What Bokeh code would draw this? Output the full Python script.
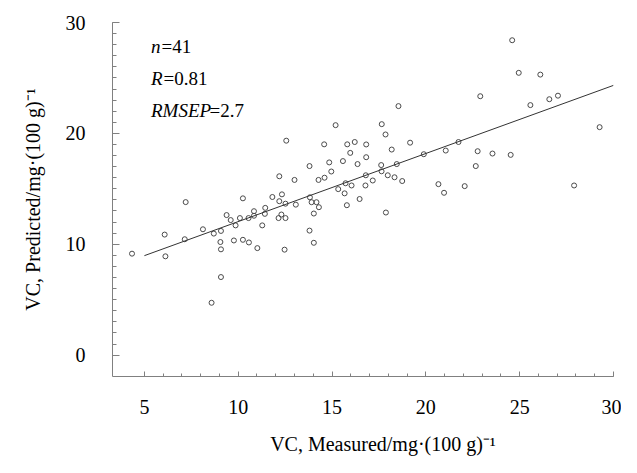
from bokeh.plotting import figure
from bokeh.models import Range1d, FixedTicker, Label
from bokeh.embed import file_html
from bokeh.resources import INLINE

# Measured vs predicted VC values
measured = [4.34, 6.08, 6.12, 7.20, 7.15, 8.12, 8.70, 9.08, 9.05, 9.08, 9.08, 8.58,
            9.38, 9.60, 9.86, 9.77, 10.25, 10.09, 10.25, 10.57, 10.55, 10.84, 10.84,
            11.02, 11.28, 11.44, 11.42, 11.82, 12.19, 12.33, 12.15, 12.30, 12.52, 12.47,
            12.52, 13.07, 13.00, 13.82, 13.91, 14.17, 14.30, 14.03, 13.80, 14.03, 14.28,
            14.60, 14.96, 15.33, 15.67, 15.79, 15.72, 16.04, 16.47, 16.78, 17.17, 17.87,
            18.74, 20.67, 20.97, 22.07, 27.90, 24.60, 24.95, 26.10, 22.90, 25.57,
            26.58, 27.04, 29.26, 18.54, 17.65, 17.85, 16.82, 16.82, 19.16, 18.18, 17.62,
            18.45, 19.89, 21.06, 21.74, 22.76, 23.55, 24.52, 22.66, 16.80, 17.64, 17.97,
            18.33, 15.19, 12.56, 14.58, 15.81, 16.21, 15.97, 14.85, 15.58, 16.36, 13.80,
            12.19]
predicted = [9.15, 10.87, 8.91, 13.80, 10.45, 11.35, 10.96, 11.20, 10.20, 9.54, 7.04, 4.72,
             12.63, 12.18, 11.70, 10.34, 14.14, 12.36, 10.40, 10.16, 12.36, 12.98, 12.57,
             9.65, 11.70, 13.28, 12.74, 14.26, 13.88, 14.50, 12.36, 12.68, 12.36, 9.51,
             13.66, 13.57, 15.80, 14.23, 13.79, 13.79, 13.34, 12.77, 11.23, 10.13, 15.80,
             16.00, 16.56, 14.97, 14.59, 13.52, 15.50, 15.30, 14.08, 15.30, 15.75, 12.86,
             15.70, 15.42, 14.64, 15.24, 15.30, 28.40, 25.46, 25.30, 23.35, 22.55,
             23.08, 23.40, 20.56, 22.46, 20.83, 19.90, 19.00, 17.85, 19.16, 18.54, 17.14,
             17.23, 18.12, 18.45, 19.22, 18.39, 18.18, 18.06, 17.05, 16.22, 16.58, 16.22,
             16.04, 20.74, 19.34, 19.01, 19.01, 19.22, 18.24, 17.38, 17.50, 17.23, 17.05,
             16.13]

# Regression line end points
fit_x = [5.0, 30.0]
fit_y = [8.97, 24.33]

x_ticks = [5, 10, 15, 20, 25, 30]
y_ticks = [0, 10, 20, 30]
x_minor = list(range(5, 31))
y_minor = list(range(0, 31))

stat_names = ["n", "R", "RMSEP"]
stat_values = ["=41", "=0.81", "=2.7"]

SERIF = "Liberation Serif"

p = figure(width=621, height=457, output_backend="svg", toolbar_location=None,
           x_range=Range1d(3.3, 30), y_range=Range1d(-1.93, 30),
           min_border_left=112, min_border_right=8, min_border_top=22, min_border_bottom=76)
p.outline_line_color = None
p.xgrid.visible = False
p.ygrid.visible = False
p.background_fill_color = "white"

p.scatter(measured, predicted, marker="circle", size=5, fill_color=None,
          line_color="#4a4a4a", line_width=1)
p.line(fit_x, fit_y, line_color="#333333", line_width=1)

for ax in (p.xaxis[0], p.yaxis[0]):
    ax.axis_line_color = "#808080"
    ax.major_tick_line_color = "#808080"
    ax.minor_tick_line_color = "#808080"
    ax.major_tick_out = 0
    ax.minor_tick_out = 0
    ax.major_label_text_font = SERIF
    ax.major_label_text_font_size = "20px"
    ax.major_label_text_color = "black"
    ax.axis_label_text_font = SERIF
    ax.axis_label_text_font_size = "20px"
    ax.axis_label_text_font_style = "normal"
    ax.axis_label_text_color = "black"

p.xaxis.ticker = FixedTicker(ticks=x_ticks, minor_ticks=x_minor)
p.yaxis.ticker = FixedTicker(ticks=y_ticks, minor_ticks=y_minor)
p.xaxis.major_tick_in = 5
p.xaxis.minor_tick_in = 3
p.yaxis.major_tick_in = 7
p.yaxis.minor_tick_in = 4
p.xaxis.major_label_standoff = 23
p.yaxis.major_label_standoff = 27
p.xaxis.axis_label_standoff = 16
p.yaxis.axis_label_standoff = 19
p.xaxis.axis_label = "\u00a0" * 8 + "VC, Measured/mg\u00b7(100 g)\u207b\u00b9"
p.yaxis.axis_label = "VC, Predicted/mg\u00b7(100 g)\u207b\u00b9"

label_x = 5.35
label_ys = [27.81, 24.96, 22.10]
offsets = [10.5, 12.5, 58.5]
for name, val, yy, off in zip(stat_names, stat_values, label_ys, offsets):
    p.add_layout(Label(x=label_x, y=yy, text=name, text_font=SERIF, text_font_size="19px",
                       text_font_style="italic", text_baseline="alphabetic",
                       text_align="left", text_color="black"))
    p.add_layout(Label(x=label_x, y=yy, x_offset=off, text=val, text_font=SERIF,
                       text_font_size="19px", text_baseline="alphabetic",
                       text_align="left", text_color="black"))

open("out.html", "w").write(file_html(p, INLINE))
